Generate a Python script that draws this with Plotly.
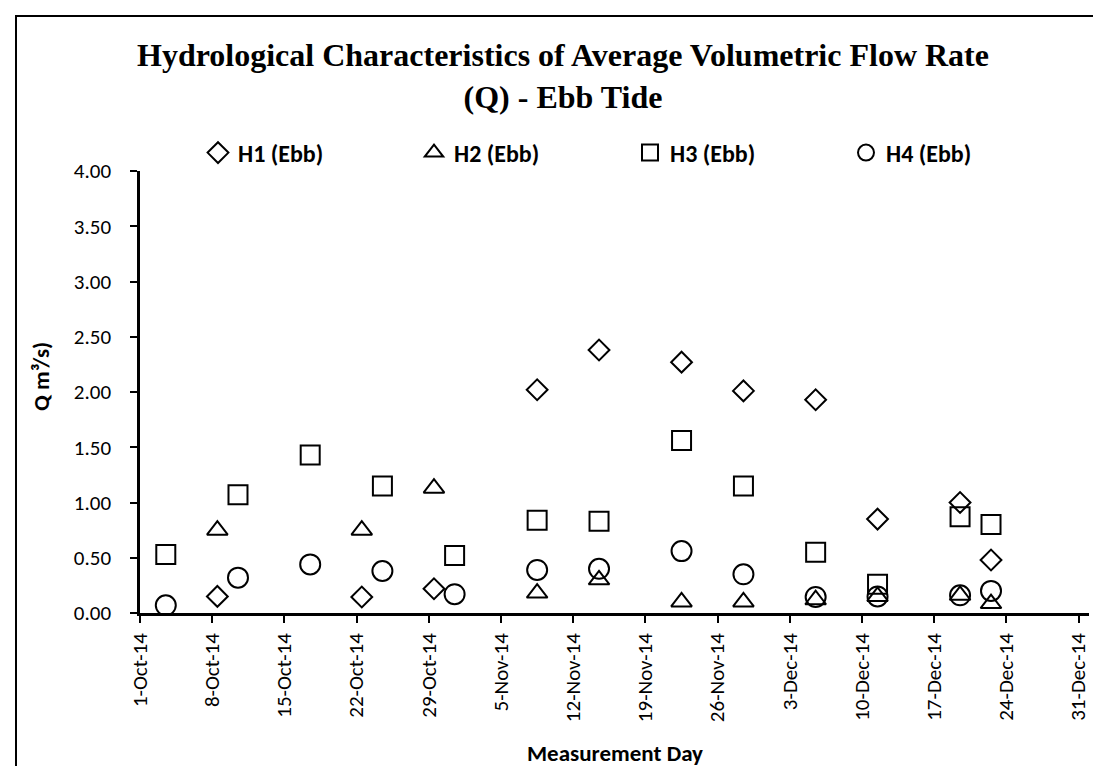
import plotly.graph_objects as go
import pandas as pd

# ---- data ----
dates_h12 = ["2014-10-08", "2014-10-22", "2014-10-29", "2014-11-08", "2014-11-14",
             "2014-11-22", "2014-11-28", "2014-12-05", "2014-12-11", "2014-12-19",
             "2014-12-22"]
h1_ebb = [0.15, 0.145, 0.22, 2.02, 2.38, 2.27, 2.01, 1.93, 0.85, 1.00, 0.48]
h2_ebb = [0.75, 0.75, 1.13, 0.18, 0.30, 0.10, 0.10, 0.12, 0.15, 0.16, 0.085]

dates_h34 = ["2014-10-03", "2014-10-10", "2014-10-17", "2014-10-24", "2014-10-31",
             "2014-11-08", "2014-11-14", "2014-11-22", "2014-11-28", "2014-12-05",
             "2014-12-11", "2014-12-19", "2014-12-22"]
h3_ebb = [0.53, 1.07, 1.43, 1.15, 0.52, 0.84, 0.83, 1.56, 1.15, 0.55, 0.26, 0.87, 0.80]
h4_ebb = [0.07, 0.32, 0.44, 0.38, 0.17, 0.39, 0.40, 0.56, 0.35, 0.145, 0.15, 0.16, 0.20]

series_names = ["H1 (Ebb)", "H2 (Ebb)", "H3 (Ebb)", "H4 (Ebb)"]
tick_dates = pd.date_range("2014-10-01", "2014-12-31", freq="7D")
y_ticks = [0.0, 0.5, 1.0, 1.5, 2.0, 2.5, 3.0, 3.5, 4.0]

# Excel date axis places each day's point in the middle of its day slot
def slot(d):
    return pd.to_datetime(d) + pd.Timedelta(hours=12)

W, H = 1101, 766
L, R, T, B = 132, 20, 163, 161
pw, ph = W - L - R, H - T - B

font_main = "Carlito, Lato, sans-serif"

fig = go.Figure()
specs = [
    (dates_h12, h1_ebb, "diamond-open", 16),
    (dates_h12, h2_ebb, "triangle-up-open", 18),
    (dates_h34, h3_ebb, "square-open", 19),
    (dates_h34, h4_ebb, "circle-open", 20),
]
for name, (d, v, sym, sz) in zip(series_names, specs):
    fig.add_trace(go.Scatter(
        x=slot(d), y=v, mode="markers", name=name,
        marker=dict(symbol=sym, size=sz, color="black", line=dict(width=2, color="black")),
    ))

fig.update_layout(
    width=W, height=H,
    margin=dict(l=L, r=R, t=T, b=B),
    paper_bgcolor="white", plot_bgcolor="white",
    font=dict(family=font_main, size=21, color="black"),
    showlegend=True,
    legend=dict(orientation="h", x=(190 - L) / pw, xanchor="left",
                y=(605 - 145) / ph, yanchor="middle",
                font=dict(family=font_main, size=24, color="black", weight="bold"),
                entrywidth=171, entrywidthmode="pixels", itemsizing="trace",
                bgcolor="rgba(0,0,0,0)"),
    xaxis=dict(
        type="date", range=["2014-10-01", "2015-01-01"],
        tickmode="array", tickvals=list(tick_dates),
        ticktext=[f"{d.day}-{d.strftime('%b-%y')}" for d in tick_dates],
        tickangle=-90, ticks="outside", ticklen=7, tickwidth=2, tickcolor="black",
        showline=True, linecolor="black", linewidth=2.5,
        showgrid=False, zeroline=False, ticklabelstandoff=2,
        tickfont=dict(family=font_main, size=21, color="black"),
    ),
    yaxis=dict(
        range=[0, 4.0], tickmode="array", tickvals=y_ticks,
        tickformat=".2f", ticks="outside", ticklen=7, tickwidth=2, tickcolor="black",
        showline=True, linecolor="black", linewidth=2.5,
        showgrid=False, zeroline=False, ticklabelstandoff=15,
        tickfont=dict(family=font_main, size=21, color="black"),
    ),
)

# Title
fig.add_annotation(
    text="<b>Hydrological Characteristics of Average Volumetric Flow Rate<br>(Q) - Ebb Tide</b>",
    xref="paper", yref="paper", x=(555 - L) / pw, y=(605 - 68) / ph,
    xanchor="center", yanchor="middle", showarrow=False,
    font=dict(family="Liberation Serif, Times New Roman, serif", size=32, color="black"),
)
# Axis titles
fig.add_annotation(
    text="<b>Measurement Day</b>", xref="paper", yref="paper",
    x=0.5, y=(605 - 745) / ph, xanchor="center", yanchor="middle", showarrow=False,
    font=dict(family=font_main, size=23, color="black"),
)
fig.add_annotation(
    text="<b>Q m³/s)</b>", xref="paper", yref="paper",
    x=(33 - L) / pw, y=(605 - 369) / ph, xanchor="center", yanchor="middle",
    showarrow=False, textangle=-90,
    font=dict(family=font_main, size=23, color="black"),
)
# Chart border
fig.add_shape(type="rect", xref="paper", yref="paper",
              x0=(8 - L) / pw, x1=(1097 - L) / pw,
              y0=(605 - 780) / ph, y1=(605 - 8) / ph,
              line=dict(color="black", width=2), fillcolor="rgba(0,0,0,0)", layer="below")

fig.write_html("out.html")
